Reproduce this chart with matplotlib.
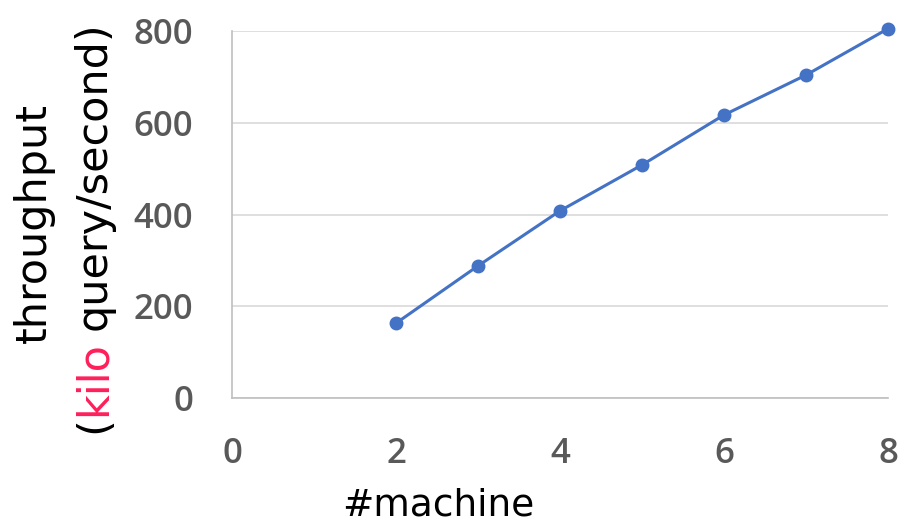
import matplotlib
matplotlib.use("Agg")
import matplotlib.pyplot as plt
from matplotlib.transforms import IdentityTransform

machines = [2, 3, 4, 5, 6, 7, 8]
throughput = [163, 288, 408, 508, 617, 704, 805]
xticks = [0, 2, 4, 6, 8]
yticks = [0, 200, 400, 600, 800]

fig = plt.figure(figsize=(9.01, 5.28), dpi=100)
ax = fig.add_axes([232/901, 1-398/528, (888-232)/901, (398-31)/528])

ax.plot(machines, throughput, color="#4472C4", lw=2.2, marker="o", ms=9,
        markeredgecolor="#4472C4", markerfacecolor="#4472C4", clip_on=False, zorder=3)

ax.set_xlim(0, 8)
ax.set_ylim(0, 800)
ax.set_xticks(xticks)
ax.set_yticks(yticks)
ax.grid(axis="y", color="#D9D9D9", lw=1.2)
ax.set_axisbelow(True)
for s in ["top", "right"]:
    ax.spines[s].set_visible(False)
for s in ["left", "bottom"]:
    ax.spines[s].set_color("#BFBFBF")
    ax.spines[s].set_linewidth(1.2)
ax.tick_params(axis="both", length=0, labelcolor="#595959", labelsize=25)
ax.tick_params(axis="x", pad=28)
ax.tick_params(axis="y", pad=28)
for lab in ax.get_xticklabels() + ax.get_yticklabels():
    lab.set_fontfamily("Open Sans")
    lab.set_fontweight("semibold")

fig.text(438/901, 1-506/528, "#machine", ha="center", va="center", fontsize=27,
         color="black", fontfamily="DejaVu Sans")

fs = 31
fig.text(34/901, 1-223/528, "throughput", ha="center", va="center", rotation=90,
         fontsize=fs, color="black", fontfamily="DejaVu Sans")

# second line with coloured "kilo"
t1 = fig.text(94/901, 1-433/528, "(", ha="center", va="bottom", rotation=90,
              fontsize=fs, color="black", fontfamily="DejaVu Sans")
fig.canvas.draw()
r = fig.canvas.get_renderer()
bb = t1.get_window_extent(r)
xc = (bb.x0 + bb.x1) / 2
t2 = fig.text(xc, bb.y1, "kilo", ha="center", va="bottom", rotation=90,
              fontsize=fs, color="#FF1F5A", fontfamily="DejaVu Sans",
              transform=IdentityTransform())
fig.canvas.draw()
bb2 = t2.get_window_extent(r)
fig.text(xc, bb2.y1 + 11, "query/second)", ha="center", va="bottom",
         rotation=90, fontsize=fs, color="black", fontfamily="DejaVu Sans",
         transform=IdentityTransform())

fig.savefig("out.png", dpi=100)
